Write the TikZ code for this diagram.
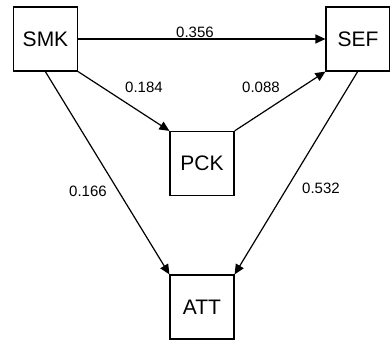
\documentclass[tikz,border=0pt]{standalone}
\usepackage{fontspec}
\setmainfont{Liberation Sans}
\usetikzlibrary{arrows.meta}
\begin{document}
\begin{tikzpicture}[x=1pt,y=-1pt,
  box/.style={draw,line width=1.2pt,minimum width=64pt,minimum height=64pt,inner sep=0pt,font=\fontsize{21}{21}\selectfont},
  lbl/.style={font=\fontsize{15}{15}\selectfont,inner sep=0pt},
  conn/.style={line width=1.2pt,-{Triangle[length=10pt,width=9pt]}}]
\useasboundingbox (0,0) rectangle (390,340);
\node[box] (smk) at (45.5,39) {SMK};
\node[box] (sef) at (358,39) {SEF};
\node[box] (pck) at (202,163.5) {PCK};
\node[box] (att) at (202,307) {ATT};
\coordinate (smkb) at (45,71);
\coordinate (sefb) at (358,71);
\draw[conn] (smk.east) -- (sef.west);
\draw[conn] (smk.south east) -- (pck.north west);
\draw[conn] (pck.north east) -- (sef.south west);
\draw[conn] (smkb) -- (att.north west);
\draw[conn] (sefb) -- (att.north east);
\node[lbl] (l1) at (195,32) {0.356};
\node[lbl] (l2) at (144,87) {0.184};
\node[lbl] (l3) at (261,87) {0.088};
\node[lbl] (l4) at (88,191) {0.166};
\node[lbl] (l5) at (321,188) {0.532};
\end{tikzpicture}
\end{document}
